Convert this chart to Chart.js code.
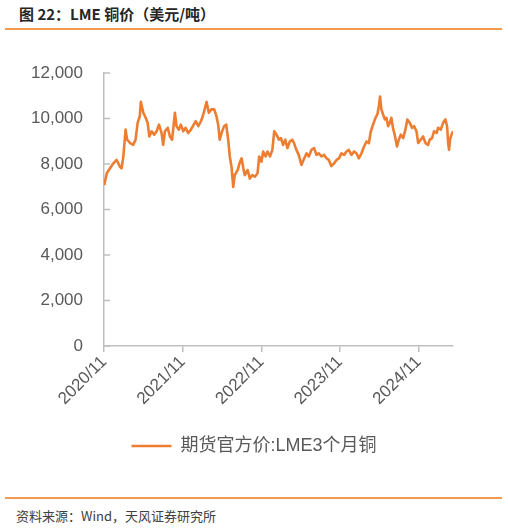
<!DOCTYPE html>
<html>
<head>
<meta charset="utf-8">
<script src="https://cdn.jsdelivr.net/npm/chart.js@4.4.1/dist/chart.umd.min.js"></script>
<style>
  body { margin: 0; background: #fff; }
  #page { position: relative; width: 508px; height: 528px; overflow: hidden; }
  .title {
    position: absolute; left: 19px; top: 4px;
    font: bold 15px "Noto Sans CJK SC", sans-serif; color: #262626;
    line-height: 20px; white-space: nowrap;
  }
  .rule { position: absolute; left: 5px; width: 497px; height: 2px; background: #F29B50; }
  .source {
    position: absolute; left: 16px; top: 506px;
    font: 13px "Noto Sans CJK SC", sans-serif; color: #404040;
    line-height: 20px; white-space: nowrap;
  }
  #wrap { position: absolute; left: 0; top: 0; width: 508px; height: 465px; }
</style>
</head>
<body>
<div id="page">
  <div class="title">图 22：LME 铜价（美元/吨）</div>
  <div class="rule" style="top:28px"></div>
  <div id="wrap"><canvas id="c"></canvas></div>
  <div class="rule" style="top:497px"></div>
  <div class="source">资料来源：Wind，天风证券研究所</div>
</div>
<script>
const seriesName = "期货官方价:LME3个月铜";
const tickLabels = ["2020/11", "2021/11", "2022/11", "2023/11", "2024/11"];
const dates = [
  "2020-11-02", "2020-11-14", "2020-11-29", "2020-12-14", "2020-12-29",
  "2021-01-14", "2021-01-22", "2021-01-30", "2021-02-10", "2021-02-17",
  "2021-03-01", "2021-03-15", "2021-03-26", "2021-04-05", "2021-04-15",
  "2021-04-20", "2021-05-01", "2021-05-12", "2021-05-21", "2021-05-29",
  "2021-06-09", "2021-06-21", "2021-07-02", "2021-07-13", "2021-07-25",
  "2021-08-02", "2021-08-10", "2021-08-23", "2021-09-03", "2021-09-13",
  "2021-09-26", "2021-10-03", "2021-10-14", "2021-10-23", "2021-11-04",
  "2021-11-15", "2021-11-27", "2021-12-09", "2021-12-22", "2021-12-31",
  "2022-01-13", "2022-01-25", "2022-02-01", "2022-02-12", "2022-02-21",
  "2022-03-01", "2022-03-13", "2022-03-26", "2022-04-06", "2022-04-14",
  "2022-04-21", "2022-05-02", "2022-05-11", "2022-05-21", "2022-05-30",
  "2022-06-07", "2022-06-15", "2022-06-23", "2022-06-30", "2022-07-13",
  "2022-07-24", "2022-08-01", "2022-08-09", "2022-08-16", "2022-08-29",
  "2022-09-09", "2022-09-20", "2022-10-02", "2022-10-14", "2022-10-22",
  "2022-11-02", "2022-11-10", "2022-11-21", "2022-11-30", "2022-12-11",
  "2022-12-22", "2022-12-31", "2023-01-11", "2023-01-22", "2023-02-01",
  "2023-02-11", "2023-02-21", "2023-03-01", "2023-03-12", "2023-03-23",
  "2023-04-01", "2023-04-12", "2023-04-23", "2023-05-05", "2023-05-18",
  "2023-05-29", "2023-06-09", "2023-06-21", "2023-07-03", "2023-07-14",
  "2023-07-25", "2023-08-07", "2023-08-19", "2023-08-30", "2023-09-10",
  "2023-09-22", "2023-10-05", "2023-10-16", "2023-10-27", "2023-11-08",
  "2023-11-21", "2023-12-01", "2023-12-12", "2023-12-24", "2024-01-06",
  "2024-01-17", "2024-01-28", "2024-02-10", "2024-02-22", "2024-03-03",
  "2024-03-14", "2024-03-23", "2024-04-03", "2024-04-14", "2024-04-23",
  "2024-04-30", "2024-05-05", "2024-05-11", "2024-05-19", "2024-05-27",
  "2024-06-04", "2024-06-12", "2024-06-20", "2024-06-27", "2024-07-04",
  "2024-07-12", "2024-07-23", "2024-07-31", "2024-08-10", "2024-08-21",
  "2024-09-01", "2024-09-10", "2024-09-21", "2024-10-02", "2024-10-11",
  "2024-10-22", "2024-10-30", "2024-11-11", "2024-11-22", "2024-12-03",
  "2024-12-15", "2024-12-23", "2025-01-03", "2025-01-12", "2025-01-24",
  "2025-01-31", "2025-02-13", "2025-02-24", "2025-03-04", "2025-03-12",
  "2025-03-17", "2025-03-21", "2025-03-26", "2025-04-02", "2025-04-09"
];
const copperPrice = [
  7070, 7590, 7810, 8030, 8180,
  7880, 7810, 8330, 9510, 9070,
  8920, 8840, 9070, 9810, 10100,
  10730, 10250, 10030, 9810, 9210,
  9440, 9290, 9440, 9730, 9360,
  8840, 9440, 9590, 9210, 9070,
  10250, 9660, 9510, 9730, 9440,
  9590, 9360, 9510, 9730, 9880,
  9660, 9880, 10030, 10400, 10730,
  10250, 10400, 10400, 10100, 9730,
  9070, 9440, 9660, 9730, 9070,
  8330, 7880, 6990, 7510, 7730,
  8100, 8250, 7810, 7510, 7730,
  7360, 7510, 7440, 7590, 8330,
  8100, 8550, 8330, 8550, 8330,
  8620, 9440, 9290, 9070, 9140,
  8840, 9070, 8700, 8990, 9070,
  8920, 8620, 8400, 7960, 8250,
  8470, 8330, 8620, 8700, 8400,
  8470, 8330, 8400, 8250, 8180,
  7910, 8030, 8180, 8250, 8470,
  8400, 8550, 8620, 8400, 8550,
  8470, 8250, 8470, 8770, 8990,
  8920, 9440, 9730, 10030, 10180,
  10550, 10960, 10400, 10180, 9960,
  10030, 9660, 9810, 10030, 9590,
  9290, 8770, 9070, 9290, 9140,
  9510, 9960, 9810, 9590, 9660,
  9440, 8920, 9070, 9210, 8920,
  8840, 9070, 9140, 9440, 9360,
  9590, 9510, 9810, 9960, 9660,
  8920, 8620, 9070, 9290, 9440
];

// months since 2020/11/01
function monthOffset(s) {
  const [y, m, d] = s.split("-").map(Number);
  return (y - 2020) * 12 + (m - 11) + (d - 1) / 30.44;
}
const points = dates.map((d, i) => ({ x: monthOffset(d), y: copperPrice[i] }));

const axisGrey = "#BFBFBF";
const textGrey = "#595959";
const lineOrange = "#ED7D31";

const innerYTicks = {
  id: "innerYTicks",
  afterDatasetsDraw(chart) {
    const y = chart.scales.y;
    const ctx = chart.ctx;
    ctx.save();
    ctx.strokeStyle = axisGrey;
    ctx.lineWidth = 1.5;
    y.ticks.forEach((t) => {
      const py = y.getPixelForValue(t.value);
      ctx.beginPath();
      ctx.moveTo(chart.chartArea.left, py);
      ctx.lineTo(chart.chartArea.left + 6, py);
      ctx.stroke();
    });
    ctx.restore();
  },
};

new Chart(document.getElementById("c"), {
  type: "line",
  data: {
    datasets: [
      {
        label: seriesName,
        data: points,
        borderColor: lineOrange,
        backgroundColor: lineOrange,
        borderWidth: 2.6,
        borderJoinStyle: "round",
        pointRadius: 0,
        tension: 0,
      },
    ],
  },
  options: {
    responsive: true,
    maintainAspectRatio: false,
    animation: false,
    layout: { padding: { top: 73, left: 0, right: 0, bottom: 0 } },
    plugins: {
      tooltip: { enabled: false },
      legend: {
        position: "bottom",
        labels: {
          usePointStyle: true,
          pointStyle: "line",
          pointStyleWidth: 40,
          padding: 10,
          color: textGrey,
          font: { size: 18, family: "'Liberation Sans', 'Noto Sans CJK SC', sans-serif" },
        },
      },
    },
    scales: {
      x: {
        type: "linear",
        min: 0,
        max: monthOffset(dates[dates.length - 1]),
        border: { color: axisGrey, width: 1.5 },
        grid: { drawOnChartArea: false, drawTicks: true, tickLength: 6, color: axisGrey, lineWidth: 1.5 },
        ticks: {
          stepSize: 12,
          includeBounds: false,
          autoSkip: false,
          maxRotation: 45,
          minRotation: 45,
          padding: 0,
          color: textGrey,
          font: { size: 17, family: "'Liberation Sans', sans-serif" },
          callback: (v) => (v % 12 === 0 ? tickLabels[v / 12] : null),
        },
        afterFit: (scale) => { scale.height = 81; },
      },
      y: {
        min: 0,
        max: 12000,
        border: { color: axisGrey, width: 1.5 },
        grid: { drawOnChartArea: false, drawTicks: false },
        ticks: {
          stepSize: 2000,
          padding: 21,
          color: textGrey,
          font: { size: 17, family: "'Liberation Sans', sans-serif" },
        },
        afterFit: (scale) => { scale.width = 104; },
      },
      yRight: {
        position: "right",
        display: true,
        border: { display: false },
        grid: { display: false },
        ticks: { display: false },
        afterFit: (scale) => { scale.width = 55; },
      },
    },
  },
  plugins: [innerYTicks],
});
</script>
</body>
</html>
